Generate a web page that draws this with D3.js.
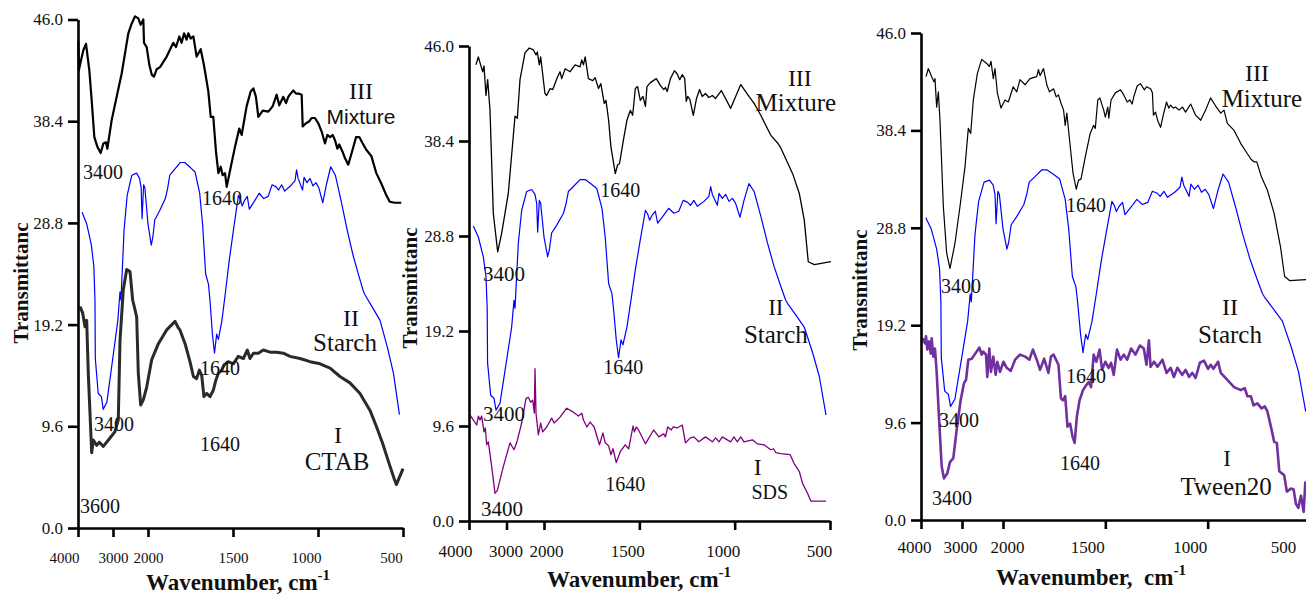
<!DOCTYPE html>
<html>
<head>
<meta charset="utf-8">
<script src="https://cdn.jsdelivr.net/npm/d3@7"></script>
<style>
  body { margin: 0; background: #fff; }
  svg { display: block; }
  text { font-family: "Liberation Serif", "Times New Roman", serif; fill: #111; }
</style>
</head>
<body>
<svg id="chart" width="1306" height="598"></svg>
<script>
// tick values / labels (axis is labelled 46.0 at the top, spaced like 48)
const waveTicks = [4000, 3000, 2000, 1500, 1000, 500];
const transTicks = [0, 9.6, 19.2, 28.8, 38.4, 48];
const transLabels = ["0.0", "9.6", "19.2", "28.8", "38.4", "46.0"];

// [wavenumber, transmittance]
const starch = [[3884,29.8],[3751,28.7],[3618,26.7],[3547,24.7],[3515,21.5],[3505,16.0],[3422,12.7],[3333,12.4],[3280,11.2],[3173,11.9],[2995,16.3],[2862,19.6],[2800,22.3],[2773,21.5],[2684,28.1],[2595,31.4],[2462,33.3],[2329,33.5],[2240,33.0],[2195,32.1],[2169,29.2],[2125,32.4],[2089,32.1],[2000,28.7],[1981,26.7],[1972,27.4],[1960,29.1],[1933,29.9],[1898,31.1],[1884,32.1],[1872,33.3],[1846,33.8],[1811,34.5],[1784,34.5],[1749,34.0],[1723,33.6],[1696,31.6],[1679,28.7],[1661,24.0],[1644,23.0],[1635,21.4],[1621,18.3],[1609,16.5],[1596,18.3],[1586,17.8],[1565,19.6],[1544,22.3],[1521,25.4],[1495,28.4],[1468,31.4],[1456,31.0],[1446,30.4],[1433,30.9],[1416,31.3],[1404,30.1],[1372,30.9],[1346,31.6],[1319,31.1],[1293,31.3],[1270,32.4],[1246,32.2],[1232,31.9],[1214,32.4],[1196,31.8],[1161,32.3],[1135,32.8],[1126,33.8],[1117,33.0],[1091,31.9],[1082,33.1],[1065,32.6],[1047,33.0],[1030,32.3],[1012,32.6],[995,32.1],[972,30.7],[951,32.4],[925,34.1],[898,33.3],[863,30.8],[828,28.1],[793,25.7],[758,23.7],[732,22.3],[723,22.0],[679,20.8],[635,19.6],[591,17.0],[556,14.6],[521,10.7]];

const mixtureCTAB = [[3990,46.0],[3975,43.2],[3924,44.0],[3848,45.1],[3771,45.7],[3676,43.2],[3610,40.4],[3533,36.9],[3448,36.0],[3352,35.4],[3276,36.3],[3200,36.4],[3162,35.8],[3038,38.5],[2895,40.7],[2752,42.9],[2657,44.8],[2562,46.7],[2467,47.6],[2371,48.3],[2276,48.1],[2210,47.5],[2133,48.0],[2114,45.8],[2038,45.4],[1992,43.7],[1978,42.8],[1965,42.6],[1949,43.3],[1929,43.5],[1890,44.5],[1851,45.8],[1835,45.4],[1816,46.4],[1802,45.8],[1788,46.7],[1773,46.1],[1763,46.7],[1749,46.2],[1733,46.4],[1714,44.5],[1690,45.2],[1671,43.7],[1645,41.2],[1631,38.8],[1616,38.8],[1600,35.5],[1586,33.5],[1572,34.1],[1561,33.3],[1547,33.5],[1537,32.2],[1514,34.0],[1488,36.0],[1463,37.7],[1449,37.1],[1420,39.8],[1396,41.2],[1380,41.5],[1365,40.7],[1351,38.8],[1325,39.4],[1292,39.3],[1267,39.8],[1243,40.9],[1228,39.9],[1204,40.7],[1188,40.1],[1175,40.7],[1161,41.0],[1145,41.3],[1129,41.0],[1112,41.0],[1096,40.9],[1090,37.9],[1071,38.2],[1051,38.4],[1037,38.7],[1018,38.7],[998,38.2],[978,37.4],[959,36.3],[945,37.1],[929,36.9],[914,37.1],[900,36.6],[886,35.8],[875,36.2],[855,35.5],[841,34.9],[822,34.3],[802,35.4],[776,36.9],[757,36.9],[737,36.3],[716,35.7],[686,35.1],[657,33.5],[627,32.5],[598,31.4],[578,30.8],[549,30.7],[510,30.7]];

const ctab = [[3943,20.9],[3867,20.3],[3800,19.0],[3752,19.6],[3706,14.6],[3609,7.1],[3563,8.3],[3466,7.8],[3391,8.1],[3277,7.7],[3086,8.5],[2943,9.1],[2849,10.2],[2800,17.7],[2706,22.5],[2609,24.4],[2514,24.2],[2437,21.5],[2371,20.6],[2323,19.9],[2277,14.6],[2209,11.6],[2134,12.1],[2037,13.3],[1978,15.9],[1939,17.4],[1890,18.7],[1841,19.5],[1822,18.9],[1812,18.7],[1782,17.4],[1753,15.7],[1733,14.3],[1714,14.1],[1698,14.9],[1684,14.4],[1671,12.4],[1655,12.7],[1635,12.4],[1616,13.0],[1600,14.0],[1586,14.6],[1566,14.9],[1553,15.4],[1528,15.7],[1498,15.5],[1469,16.2],[1439,16.0],[1416,16.8],[1400,16.0],[1380,16.5],[1351,16.5],[1322,16.8],[1282,16.6],[1243,16.6],[1204,16.5],[1165,16.2],[1106,16.0],[1047,15.7],[988,15.5],[929,15.1],[871,14.3],[812,13.7],[753,12.7],[694,11.1],[657,9.6],[620,8.0],[582,6.1],[553,4.7],[539,4.1],[510,5.2],[500,5.6]];

const mixtureSDS = [[3813,46.1],[3752,46.9],[3635,45.4],[3600,46.0],[3547,43.0],[3502,44.6],[3440,41.5],[3352,31.1],[3235,27.2],[3128,29.1],[2952,33.1],[2773,40.9],[2711,40.7],[2640,44.6],[2507,47.3],[2392,47.8],[2284,47.6],[2213,47.1],[2178,47.4],[2125,46.1],[2089,46.9],[1995,43.2],[1986,43.0],[1968,43.7],[1954,43.6],[1933,44.7],[1916,45.4],[1907,44.7],[1889,45.7],[1863,45.4],[1837,46.1],[1811,45.9],[1802,46.6],[1793,46.1],[1784,46.9],[1767,44.7],[1744,44.5],[1732,44.8],[1714,43.7],[1702,44.2],[1684,42.2],[1675,42.5],[1661,40.5],[1649,37.8],[1626,35.1],[1614,36.0],[1604,36.1],[1586,38.2],[1565,40.5],[1547,41.5],[1535,41.0],[1521,43.7],[1509,43.9],[1495,42.5],[1481,42.9],[1468,41.9],[1460,43.9],[1442,44.3],[1411,44.7],[1389,44.0],[1372,43.6],[1363,43.8],[1354,43.4],[1337,44.7],[1316,45.5],[1302,45.2],[1288,44.6],[1275,45.1],[1262,44.7],[1254,42.4],[1246,42.9],[1235,42.6],[1217,41.0],[1200,42.7],[1184,43.6],[1170,42.9],[1153,43.2],[1135,42.8],[1117,43.0],[1100,42.7],[1070,43.5],[1021,41.7],[968,44.1],[925,42.9],[898,42.2],[863,41.0],[811,39.0],[775,38.2],[758,37.7],[696,35.1],[661,33.1],[635,30.4],[614,26.2],[582,25.9],[495,26.2]];

const sds = [[3973,10.7],[3795,9.7],[3751,10.6],[3707,10.2],[3662,10.6],[3600,9.0],[3564,9.4],[3529,7.7],[3484,8.0],[3395,5.5],[3307,2.8],[3244,3.1],[3085,5.5],[2907,7.9],[2800,7.2],[2729,7.9],[2595,9.9],[2480,12.4],[2418,12.5],[2355,12.0],[2302,12.2],[2258,10.9],[2240,15.4],[2213,10.9],[2151,8.7],[2089,9.9],[2035,9.0],[1986,9.5],[1960,10.4],[1947,9.9],[1916,10.5],[1881,11.4],[1846,11.0],[1819,10.6],[1802,10.9],[1793,10.2],[1775,9.5],[1758,10.0],[1737,9.5],[1709,7.7],[1691,8.9],[1679,7.9],[1661,7.6],[1649,6.7],[1638,7.3],[1621,5.9],[1600,7.0],[1574,7.7],[1556,7.3],[1533,9.6],[1526,9.0],[1516,9.5],[1504,9.2],[1468,7.8],[1425,9.2],[1398,8.5],[1372,8.8],[1363,8.5],[1351,9.5],[1333,9.2],[1323,9.5],[1302,9.4],[1275,9.7],[1258,7.9],[1232,8.4],[1214,8.5],[1188,8.0],[1153,8.5],[1117,8.0],[1100,8.4],[1082,8.0],[1065,8.5],[1021,8.0],[1004,8.5],[986,8.0],[968,8.5],[951,8.0],[907,8.2],[881,7.8],[846,7.7],[811,7.2],[796,7.3],[784,6.9],[758,6.8],[709,6.7],[688,5.8],[661,5.0],[644,3.8],[618,2.8],[600,2.0],[521,2.0]];

const mixtureTween = [[3878,43.7],[3821,44.5],[3740,43.7],[3683,43.2],[3659,43.5],[3618,40.7],[3577,42.2],[3537,39.4],[3455,30.9],[3374,26.3],[3293,24.8],[3171,27.3],[3049,30.9],[2927,34.8],[2846,38.6],[2788,38.1],[2724,41.4],[2626,44.0],[2520,45.4],[2398,45.0],[2333,44.7],[2293,45.2],[2236,43.5],[2195,44.5],[2138,42.1],[2049,40.6],[1990,41.4],[1974,41.2],[1950,42.7],[1933,42.2],[1917,43.4],[1892,42.9],[1868,43.5],[1835,43.7],[1827,44.4],[1819,43.8],[1802,44.5],[1786,42.9],[1773,42.2],[1753,42.5],[1740,41.7],[1729,41.9],[1717,41.1],[1704,40.4],[1696,38.9],[1688,40.1],[1675,37.5],[1658,34.2],[1642,32.6],[1631,33.5],[1619,33.6],[1598,35.8],[1574,38.1],[1557,38.9],[1549,38.6],[1537,41.4],[1527,41.6],[1508,40.4],[1500,39.7],[1488,40.7],[1483,39.6],[1472,41.4],[1451,42.1],[1426,42.4],[1410,41.9],[1393,41.2],[1380,41.4],[1369,41.0],[1361,41.7],[1344,42.8],[1328,43.0],[1309,42.4],[1299,42.7],[1279,42.5],[1270,42.1],[1265,39.9],[1255,40.2],[1243,39.3],[1230,38.7],[1217,39.9],[1201,41.2],[1190,40.6],[1181,40.9],[1168,40.6],[1157,40.7],[1140,40.4],[1123,40.7],[1108,40.2],[1083,41.0],[1059,39.9],[1034,39.4],[1010,40.4],[986,41.6],[961,40.8],[936,40.1],[920,40.4],[904,39.1],[871,38.4],[838,37.1],[806,36.1],[786,35.5],[773,35.3],[760,35.3],[737,33.8],[708,32.5],[675,30.2],[644,26.9],[624,24.0],[600,23.6],[513,23.7]];

const tween20 = [[3959,17.9],[3902,17.4],[3878,18.1],[3846,16.8],[3805,17.6],[3763,16.4],[3740,17.9],[3699,16.1],[3659,16.9],[3618,14.6],[3553,9.5],[3496,5.3],[3439,4.1],[3358,4.6],[3293,5.7],[3212,6.1],[3130,8.9],[3033,11.8],[2951,13.5],[2902,13.8],[2846,15.8],[2763,15.9],[2641,16.6],[2577,17.0],[2520,16.3],[2480,16.6],[2415,16.3],[2383,14.1],[2334,16.9],[2293,14.6],[2236,16.1],[2179,14.3],[2138,15.6],[2073,14.6],[1998,15.6],[1982,15.0],[1962,14.7],[1941,15.8],[1917,16.3],[1892,16.1],[1871,15.8],[1854,16.8],[1835,15.8],[1819,14.8],[1799,15.9],[1778,14.5],[1766,16.1],[1753,16.3],[1729,15.3],[1717,12.0],[1707,11.8],[1696,12.2],[1685,9.2],[1672,9.5],[1660,8.2],[1650,7.6],[1639,10.2],[1626,11.8],[1609,12.8],[1593,13.3],[1581,13.6],[1570,13.1],[1557,16.3],[1544,15.6],[1528,16.8],[1516,14.8],[1500,15.6],[1484,15.0],[1472,15.5],[1459,14.3],[1443,16.8],[1426,15.8],[1410,16.3],[1393,15.8],[1374,16.9],[1353,16.3],[1331,17.2],[1312,16.9],[1299,15.3],[1287,17.7],[1279,15.1],[1262,15.6],[1245,15.1],[1221,15.8],[1201,14.5],[1181,15.0],[1165,14.1],[1148,15.0],[1124,14.3],[1108,14.8],[1091,14.1],[1075,14.5],[1059,14.0],[1038,15.5],[1018,15.7],[998,14.9],[985,15.3],[972,14.9],[949,15.6],[936,14.5],[904,13.8],[871,13.1],[838,12.8],[819,13.0],[806,12.2],[789,12.2],[776,11.3],[757,11.5],[737,11.0],[721,11.2],[708,10.7],[691,9.2],[675,7.7],[662,7.6],[650,4.8],[626,4.4],[613,2.8],[593,3.1],[580,3.0],[569,1.6],[557,1.2],[544,2.4],[531,0.8],[523,3.7],[515,3.0]];

// layout of the three panels
const panels = [
  {
    xr: [78, 148, 403], yr: [528, 19.5],
    tickDx: [-14, 0, 0, 0, -12, -12], tickPad: 15, tickFont: 15,
    yLabelX: 28, yLabelY: 283, xTitleX: 238, xTitleY: 590, xTitle: "Wavenumber, cm",
    series: [
      { data: mixtureCTAB, color: "#000", width: 2.2 },
      { data: starch, color: "#0000ff", width: 1.2 },
      { data: ctab, color: "#2a2a2a", width: 3, blur: true }
    ],
    notes: [
      ["III", 747, 40.5, 24, "serif"], ["Mixture", 747, 38.1, 21, "sans"],
      ["3400", 3286, 32.9, 20, "serif"], ["1640", 1565, 30.5, 20, "serif"],
      ["II", 806, 19.1, 24, "serif"], ["Starch", 841, 16.7, 25, "serif"],
      ["1640", 1576, 14.4, 20, "serif"], ["3400", 2971, 9.2, 20, "serif"],
      ["1640", 1576, 7.3, 20, "serif"], ["I", 882, 8.0, 24, "serif"],
      ["CTAB", 888, 5.5, 25, "serif"], ["3600", 3371, 1.4, 20, "serif"]
    ]
  },
  {
    xr: [469, 544, 830], yr: [521, 46],
    tickDx: [-14, -1, 2, -12, -12, -11], tickPad: 15, tickFont: 17,
    yLabelX: 417, yLabelY: 288, xTitleX: 639, xTitleY: 587, xTitle: "Wavenumber, cm",
    series: [
      { data: mixtureSDS, color: "#000", width: 1.3 },
      { data: starch, color: "#0000ff", width: 1.2 },
      { data: sds, color: "#800080", width: 1.3 }
    ],
    notes: [
      ["III", 658, 44.0, 24, "serif"], ["Mixture", 679, 41.4, 25, "serif"],
      ["1640", 1600, 32.7, 20, "serif"], ["3400", 3067, 24.3, 21, "serif"],
      ["II", 784, 20.8, 23, "serif"], ["Starch", 784, 18.0, 25, "serif"],
      ["1640", 1584, 14.9, 20, "serif"], ["3400", 3067, 10.1, 21, "serif"],
      ["1640", 1574, 3.0, 20, "serif"], ["I", 879, 4.6, 24, "serif"],
      ["SDS", 816, 2.2, 20, "serif"], ["3400", 3120, 0.5, 21, "serif"]
    ]
  },
  {
    xr: [921, 1003, 1310], yr: [520, 33],
    tickDx: [-7, -2, 4, -18, -18, -27], tickPad: 12, tickFont: 17,
    yLabelX: 867, yLabelY: 290, xTitleX: 1091, xTitleY: 585, xTitle: "Wavenumber,  cm",
    series: [
      { data: mixtureTween, color: "#000", width: 1.2 },
      { data: starch, color: "#0000ff", width: 1.2 },
      { data: tween20, color: "#7030a0", width: 2.6 }
    ],
    notes: [
      ["III", 759, 43.3, 24, "serif"], ["Mixture", 735, 40.7, 25, "serif"],
      ["1640", 1595, 30.4, 20, "serif"], ["3400", 3024, 22.4, 20, "serif"],
      ["II", 891, 20.2, 24, "serif"], ["Starch", 891, 17.4, 25, "serif"],
      ["1640", 1595, 13.5, 20, "serif"], ["3400", 3073, 9.2, 20, "serif"],
      ["1640", 1624, 4.9, 20, "serif"], ["I", 905, 5.3, 23, "serif"],
      ["Tween20", 910, 2.5, 25, "serif"], ["3400", 3244, 1.5, 20, "serif"]
    ]
  }
];

const svg = d3.select("#chart");

svg.append("defs").append("filter").attr("id", "soft")
  .append("feGaussianBlur").attr("stdDeviation", 0.7);

panels.forEach(p => {
  const x = d3.scaleLinear().domain([4000, 2000, 500]).range(p.xr);
  const y = d3.scaleLinear().domain([0, 48]).range(p.yr);
  const g = svg.append("g");

  const line = d3.line().x(d => x(d[0])).y(d => y(d[1]));

  p.series.forEach(s => {
    g.append("path")
      .datum(s.data)
      .attr("d", line)
      .attr("fill", "none")
      .attr("stroke", s.color)
      .attr("stroke-width", s.width)
      .attr("stroke-linejoin", "round")
      .attr("filter", s.blur ? "url(#soft)" : null);
  });

  // y axis
  const yAxis = g.append("g")
    .attr("transform", `translate(${p.xr[0]},0)`)
    .call(d3.axisLeft(y).tickValues(transTicks)
      .tickFormat((d, i) => transLabels[i]).tickSize(10).tickSizeOuter(0).tickPadding(5));

  // x axis
  const xAxis = g.append("g")
    .attr("transform", `translate(0,${p.yr[0]})`)
    .call(d3.axisBottom(x).tickValues(waveTicks)
      .tickFormat(d3.format("d")).tickSize(9).tickSizeOuter(0).tickPadding(p.tickPad));

  xAxis.selectAll(".tick text").attr("dx", (d, i) => p.tickDx[i]);

  [yAxis, xAxis].forEach(a => {
    a.attr("font-family", null);
    a.select(".domain").attr("stroke", "#000").attr("stroke-width", 2.6);
    a.selectAll(".tick line").attr("stroke", "#000").attr("stroke-width", 2.6);
    a.selectAll(".tick text")
      .style("font-family", '"Liberation Serif", "Times New Roman", serif')
      .attr("fill", "#111");
  });
  yAxis.selectAll(".tick text").style("font-size", "17px");
  xAxis.selectAll(".tick text").style("font-size", p.tickFont + "px");

  // axis titles
  g.append("text")
    .attr("transform", `translate(${p.yLabelX},${p.yLabelY}) rotate(-90)`)
    .attr("text-anchor", "middle")
    .style("font-size", "21px").style("font-weight", "bold")
    .text("Transmittanc");

  const xt = g.append("text")
    .attr("x", p.xTitleX).attr("y", p.xTitleY)
    .attr("text-anchor", "middle")
    .style("font-size", "23px").style("font-weight", "bold")
    .style("white-space", "pre");
  xt.append("tspan").text(p.xTitle);
  xt.append("tspan").attr("dy", -10).style("font-size", "15px").text("-1");

  // curve labels
  g.selectAll("text.note")
    .data(p.notes)
    .join("text")
    .attr("class", "note")
    .attr("x", d => x(d[1]))
    .attr("y", d => y(d[2]))
    .attr("text-anchor", "middle")
    .style("font-size", d => d[3] + "px")
    .style("font-family", d => d[4] === "sans"
      ? '"Liberation Sans", Arial, sans-serif'
      : '"Liberation Serif", "Times New Roman", serif')
    .text(d => d[0]);
});
</script>
</body>
</html>
